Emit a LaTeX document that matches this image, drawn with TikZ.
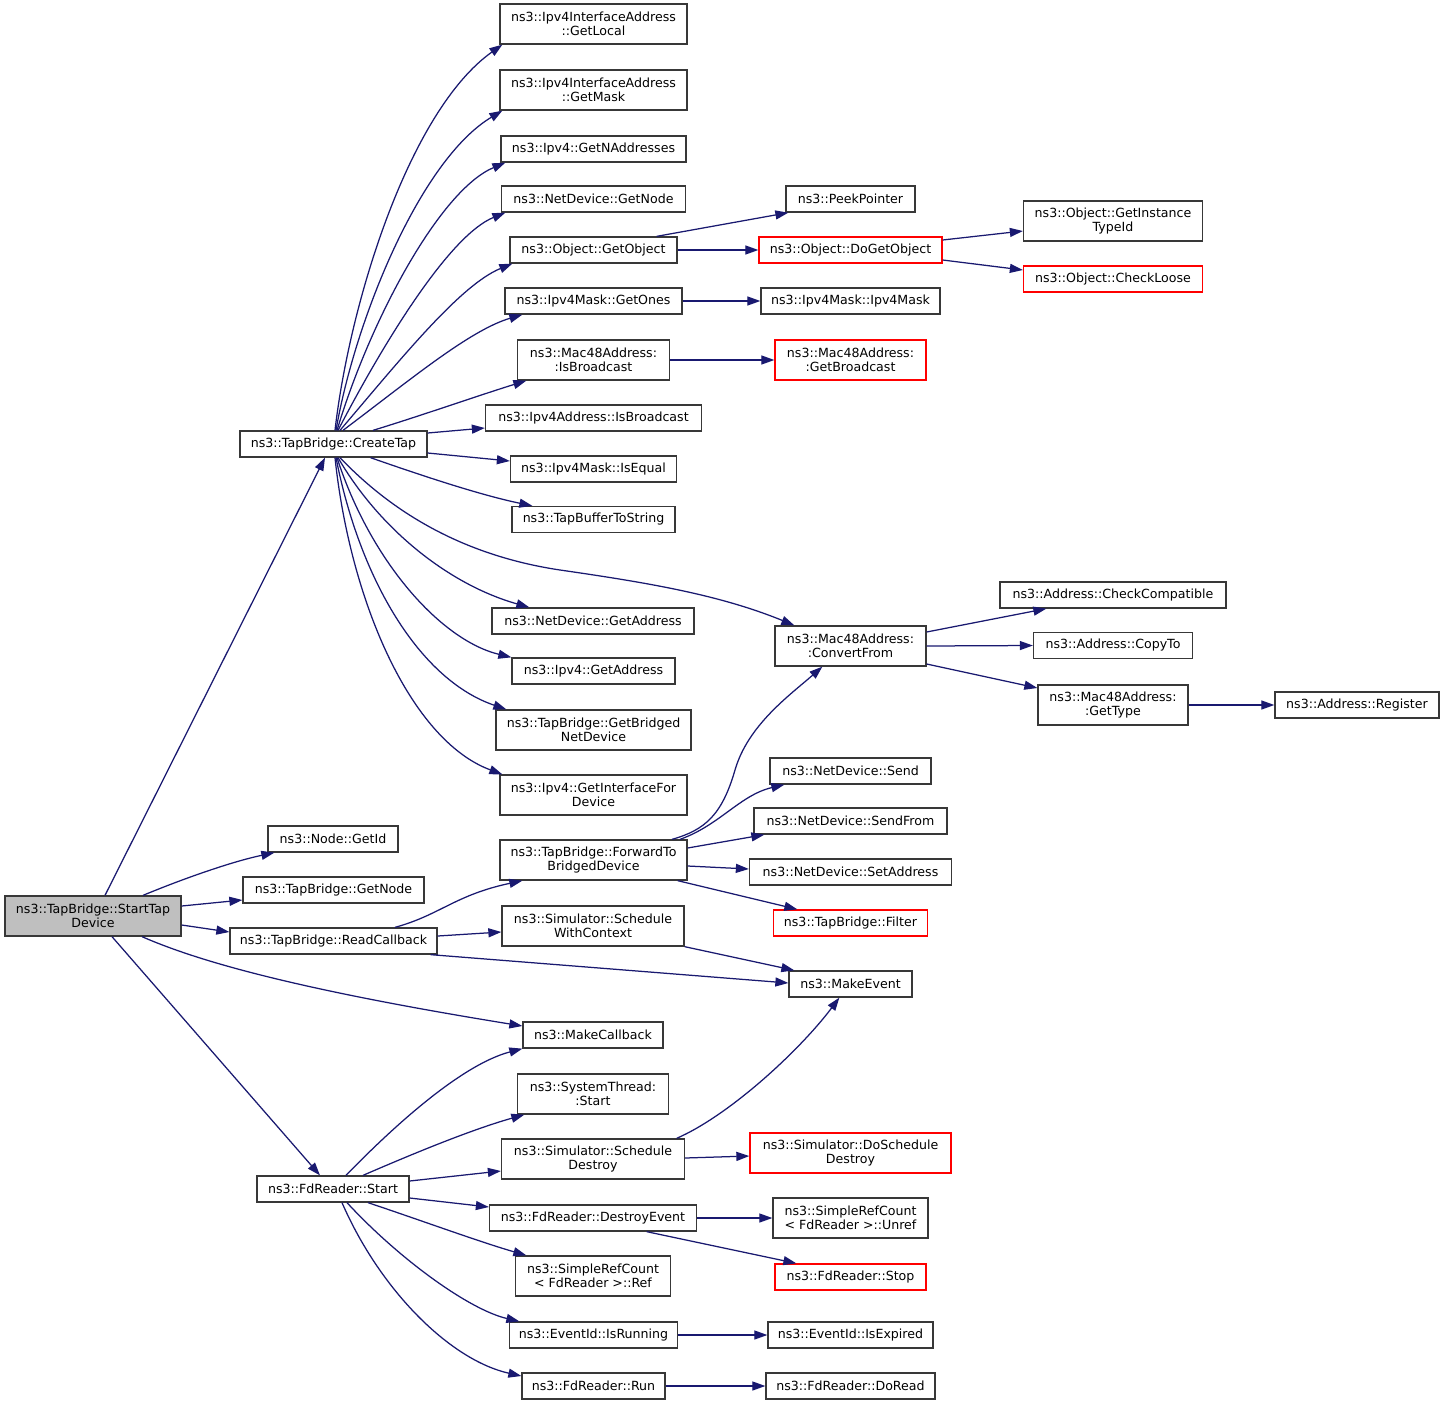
\documentclass[tikz,border=0pt]{standalone}
\usepackage{fontspec}
\newfontfamily\dejavu{DejaVu Sans}
\usetikzlibrary{arrows.meta,calc}
\definecolor{edgeblue}{RGB}{25,25,112}
\definecolor{boxgray}{RGB}{191,191,191}
\begin{document}
\begin{tikzpicture}[x=1pt,y=-1pt,
  box/.style={draw=black!78, line width=1.3pt, inner sep=0pt, align=center, fill=white,
    font={\dejavu\fontsize{12.6}{14.3}\selectfont}},
  redbox/.style={box, draw=red},
  e/.style={draw=edgeblue, line width=1.25pt, -{Triangle[length=13pt,width=9pt]}}]
\useasboundingbox (0,0) rectangle (1445,1405);
\fill[white] (0,0) rectangle (1445,1405);
% column 1
\node[box, fill=boxgray, minimum width=176pt, minimum height=40pt] (st) at (93,916) {ns3::TapBridge::StartTap\\Device};
\node[box, minimum width=187pt, minimum height=26pt] (ct) at (333.5,444) {ns3::TapBridge::CreateTap};
\node[box, minimum width=130pt, minimum height=26pt] (gid) at (333,839) {ns3::Node::GetId};
\node[box, minimum width=181pt, minimum height=26pt] (gn) at (333.5,890) {ns3::TapBridge::GetNode};
\node[box, minimum width=207pt, minimum height=26pt] (rc) at (333.5,941) {ns3::TapBridge::ReadCallback};
\node[box, minimum width=152pt, minimum height=26pt] (fs) at (333,1189) {ns3::FdReader::Start};
% column 2
\node[box, minimum width=187pt, minimum height=40pt] (gl) at (593.5,24) {ns3::Ipv4InterfaceAddress\\::GetLocal};
\node[box, minimum width=187pt, minimum height=40pt] (gm) at (593.5,90) {ns3::Ipv4InterfaceAddress\\::GetMask};
\node[box, minimum width=185pt, minimum height=26pt] (gna) at (593.5,149) {ns3::Ipv4::GetNAddresses};
\node[box, minimum width=184pt, minimum height=26pt] (ndgn) at (593.5,199) {ns3::NetDevice::GetNode};
\node[box, minimum width=167pt, minimum height=26pt] (go) at (593.5,250) {ns3::Object::GetObject};
\node[box, minimum width=177pt, minimum height=26pt] (ones) at (593.5,301) {ns3::Ipv4Mask::GetOnes};
\node[box, minimum width=152pt, minimum height=40pt] (isb) at (593.5,360) {ns3::Mac48Address:\\:IsBroadcast};
\node[box, minimum width=216pt, minimum height=26pt] (ipb) at (593.5,418) {ns3::Ipv4Address::IsBroadcast};
\node[box, minimum width=166pt, minimum height=26pt] (ieq) at (593.5,469) {ns3::Ipv4Mask::IsEqual};
\node[box, minimum width=163pt, minimum height=26pt] (tbs) at (593.5,519.5) {ns3::TapBufferToString};
\node[box, minimum width=202pt, minimum height=26pt] (nga) at (593,621) {ns3::NetDevice::GetAddress};
\node[box, minimum width=163pt, minimum height=26pt] (iga) at (593.5,671) {ns3::Ipv4::GetAddress};
\node[box, minimum width=195pt, minimum height=40pt] (gbn) at (593.5,730) {ns3::TapBridge::GetBridged\\NetDevice};
\node[box, minimum width=187pt, minimum height=40pt] (gif) at (593.5,795) {ns3::Ipv4::GetInterfaceFor\\Device};
\node[box, minimum width=187pt, minimum height=40pt] (fwd) at (593.5,860) {ns3::TapBridge::ForwardTo\\BridgedDevice};
\node[box, minimum width=182pt, minimum height=40pt] (swc) at (593,926) {ns3::Simulator::Schedule\\WithContext};
\node[box, minimum width=140pt, minimum height=26pt] (mcb) at (593,1035) {ns3::MakeCallback};
\node[box, minimum width=151pt, minimum height=40pt] (sts) at (593,1094) {ns3::SystemThread:\\:Start};
\node[box, minimum width=183pt, minimum height=40pt] (sd) at (593,1159) {ns3::Simulator::Schedule\\Destroy};
\node[box, minimum width=207pt, minimum height=26pt] (de) at (593,1218) {ns3::FdReader::DestroyEvent};
\node[box, minimum width=155pt, minimum height=40pt] (ref) at (593,1276) {ns3::SimpleRefCount\\< FdReader >::Ref};
\node[box, minimum width=168pt, minimum height=26pt] (irun) at (593.5,1335) {ns3::EventId::IsRunning};
\node[box, minimum width=143pt, minimum height=26pt] (run) at (593.5,1386) {ns3::FdReader::Run};
% column 3
\node[box, minimum width=129pt, minimum height=26pt] (pp) at (850.5,199) {ns3::PeekPointer};
\node[redbox, minimum width=183pt, minimum height=26pt] (dgo) at (850.5,250) {ns3::Object::DoGetObject};
\node[box, minimum width=179pt, minimum height=26pt] (i4m) at (850.5,301) {ns3::Ipv4Mask::Ipv4Mask};
\node[redbox, minimum width=151pt, minimum height=40pt] (gbc) at (850.5,360) {ns3::Mac48Address:\\:GetBroadcast};
\node[box, minimum width=151pt, minimum height=40pt] (cf) at (850.5,646) {ns3::Mac48Address:\\:ConvertFrom};
\node[box, minimum width=161pt, minimum height=26pt] (snd) at (850.5,771) {ns3::NetDevice::Send};
\node[box, minimum width=193pt, minimum height=26pt] (sfr) at (850.5,821) {ns3::NetDevice::SendFrom};
\node[box, minimum width=202pt, minimum height=26pt] (sad) at (850.5,872) {ns3::NetDevice::SetAddress};
\node[redbox, minimum width=154pt, minimum height=26pt] (flt) at (850.5,923) {ns3::TapBridge::Filter};
\node[box, minimum width=123pt, minimum height=26pt] (me) at (850.5,984) {ns3::MakeEvent};
\node[redbox, minimum width=201pt, minimum height=40pt] (dsd) at (850.5,1153) {ns3::Simulator::DoSchedule\\Destroy};
\node[box, minimum width=155pt, minimum height=40pt] (unref) at (850.5,1218) {ns3::SimpleRefCount\\< FdReader >::Unref};
\node[redbox, minimum width=151pt, minimum height=26pt] (stop) at (850.5,1277) {ns3::FdReader::Stop};
\node[box, minimum width=165pt, minimum height=26pt] (iexp) at (850.5,1335) {ns3::EventId::IsExpired};
\node[box, minimum width=169pt, minimum height=26pt] (drd) at (850.5,1386) {ns3::FdReader::DoRead};
% column 4 and 5
\node[box, minimum width=179pt, minimum height=40pt] (git) at (1113,221) {ns3::Object::GetInstance\\TypeId};
\node[redbox, minimum width=179pt, minimum height=26pt] (cl) at (1113,279) {ns3::Object::CheckLoose};
\node[box, minimum width=226pt, minimum height=26pt] (cc) at (1113,595) {ns3::Address::CheckCompatible};
\node[box, minimum width=159pt, minimum height=26pt] (cpt) at (1113,645.5) {ns3::Address::CopyTo};
\node[box, minimum width=150pt, minimum height=40pt] (gt) at (1113,705) {ns3::Mac48Address:\\:GetType};
\node[box, minimum width=164pt, minimum height=26pt] (reg) at (1357,705) {ns3::Address::Register};
% edges from StartTap
\draw[e] ($(st.north)+(12,0)$) -- ($(ct.south)+(-8.5,0)$);
\draw[e] ($(st.north)+(50,0)$) .. controls (180,880) and (230,862) .. ($(gid.south west)+(7,0)$);
\draw[e] ($(st.east)+(0,-10)$) -- ($(gn.west)+(0,10)$);
\draw[e] ($(st.east)+(0,9)$) -- ($(rc.west)+(0,-9)$);
\draw[e] ($(st.south)+(49,0)$) .. controls (200,962) and (300,990) .. ($(mcb.west)+(0,-9)$);
\draw[e] ($(st.south)+(19,0)$) -- ($(fs.north)+(-13,0)$);
% CreateTap upper fan
\draw[e] ($(ct.north)+(1.5,0)$) .. controls (350,300) and (410,110) .. ($(gl.south west)+(3,0)$);
\draw[e] ($(ct.north)+(2.5,0)$) .. controls (355,320) and (420,160) .. ($(gm.south west)+(3,0)$);
\draw[e] ($(ct.north)+(3.5,0)$) .. controls (370,320) and (440,190) .. ($(gna.south west)+(5,0)$);
\draw[e] ($(ct.north)+(4.5,0)$) .. controls (385,340) and (450,235) .. ($(ndgn.south west)+(4.5,0)$);
\draw[e] ($(ct.north)+(6.5,0)$) .. controls (400,360) and (460,285) .. ($(go.south west)+(3,0)$);
\draw[e] ($(ct.north)+(9.5,0)$) .. controls (410,380) and (470,330) .. ($(ones.south west)+(18,0)$);
\draw[e] ($(ct.north)+(39.5,0)$) .. controls (420,416) and (480,395) .. ($(isb.south west)+(9.5,0)$);
\draw[e] ($(ct.east)+(0,-11)$) -- ($(ipb.west)+(0,10)$);
\draw[e] ($(ct.east)+(0,9)$) -- ($(ieq.west)+(0,-8)$);
\draw[e] ($(ct.south)+(37,0)$) .. controls (420,475) and (480,495) .. ($(tbs.north west)+(21,0)$);
% CreateTap lower fan
\draw[e] ($(ct.south)+(4.5,0)$) .. controls (380,530) and (450,585) .. ($(nga.north west)+(38,0)$);
\draw[e] ($(ct.south)+(3.5,0)$) .. controls (370,560) and (440,640) .. (iga.north west);
\draw[e] ($(ct.south)+(2.5,0)$) .. controls (360,580) and (420,680) .. ($(gbn.north west)+(11,0)$);
\draw[e] ($(ct.south)+(1.5,0)$) .. controls (350,600) and (410,740) .. ($(gif.north west)+(3,0)$);
\draw[e] ($(ct.south)+(6.5,0)$) .. controls (390,510) and (460,555) .. (560,570) .. controls (650,583) and (720,595) .. ($(cf.north west)+(20,0)$);
% ReadCallback
\draw[e] ($(rc.north)+(61.5,0)$) .. controls (440,915) and (455,895) .. ($(fwd.south west)+(23,0)$);
\draw[e] ($(rc.east)+(0,-5)$) -- ($(swc.west)+(0,6)$);
\draw[e] ($(rc.south east)+(-7,0)$) -- ($(me.west)+(0,-1)$);
% ForwardTo
\draw[e] ($(fwd.north)+(78.5,0)$) .. controls (705,830) and (722,815) .. (735,770) .. controls (748,725) and (790,695) .. ($(cf.south west)+(48,0)$);
\draw[e] ($(fwd.north)+(86.5,0)$) .. controls (720,825) and (740,795) .. ($(snd.south west)+(15,0)$);
\draw[e] ($(fwd.east)+(0,-12)$) -- ($(sfr.south west)+(11,0)$);
\draw[e] ($(fwd.east)+(0,6)$) -- ($(sad.west)+(0,-3)$);
\draw[e] ($(fwd.south east)+(-10,0)$) -- ($(flt.north west)+(24.5,0)$);
\draw[e] (swc.south east) -- ($(me.north west)+(6,0)$);
% upper right
\draw[e] ($(go.north east)+(-21,0)$) -- ($(pp.south west)+(3,0)$);
\draw[e] (go.east) -- (dgo.west);
\draw[e] ($(dgo.east)+(0,-10)$) -- ($(git.west)+(0,10)$);
\draw[e] ($(dgo.east)+(0,10)$) -- ($(cl.west)+(0,-9)$);
\draw[e] (ones.east) -- (i4m.west);
\draw[e] (isb.east) -- (gbc.west);
\draw[e] ($(cf.east)+(0,-14)$) -- ($(cc.south west)+(47,0)$);
\draw[e] (cf.east) -- (cpt.west);
\draw[e] ($(cf.east)+(0,18)$) -- ($(gt.west)+(0,-17)$);
\draw[e] (gt.east) -- (reg.west);
% FdReader::Start fan
\draw[e] ($(fs.north)+(13,0)$) .. controls (390,1130) and (460,1065) .. (mcb.south west);
\draw[e] ($(fs.north)+(30,0)$) .. controls (410,1155) and (470,1130) .. ($(sts.south west)+(7.5,0)$);
\draw[e] ($(fs.east)+(0,-8)$) -- ($(sd.west)+(0,12)$);
\draw[e] ($(fs.east)+(0,9)$) -- ($(de.west)+(0,-11)$);
\draw[e] ($(fs.south)+(35,0)$) .. controls (420,1220) and (480,1242) .. ($(ref.north west)+(11.5,0)$);
\draw[e] ($(fs.south)+(14,0)$) .. controls (400,1260) and (470,1310) .. ($(irun.north west)+(10.5,0)$);
\draw[e] ($(fs.south)+(9,0)$) .. controls (380,1290) and (450,1360) .. ($(run.west)+(0,-10)$);
% lower right
\draw[e] ($(sd.north east)+(-8.5,0)$) .. controls (730,1115) and (800,1050) .. ($(me.south west)+(51,0)$);
\draw[e] ($(sd.east)+(0,-1)$) -- ($(dsd.west)+(0,3)$);
\draw[e] (de.east) -- (unref.west);
\draw[e] ($(de.south east)+(-50.5,0)$) -- ($(stop.north west)+(22,0)$);
\draw[e] (irun.east) -- (iexp.west);
\draw[e] (run.east) -- (drd.west);
\end{tikzpicture}
\end{document}
